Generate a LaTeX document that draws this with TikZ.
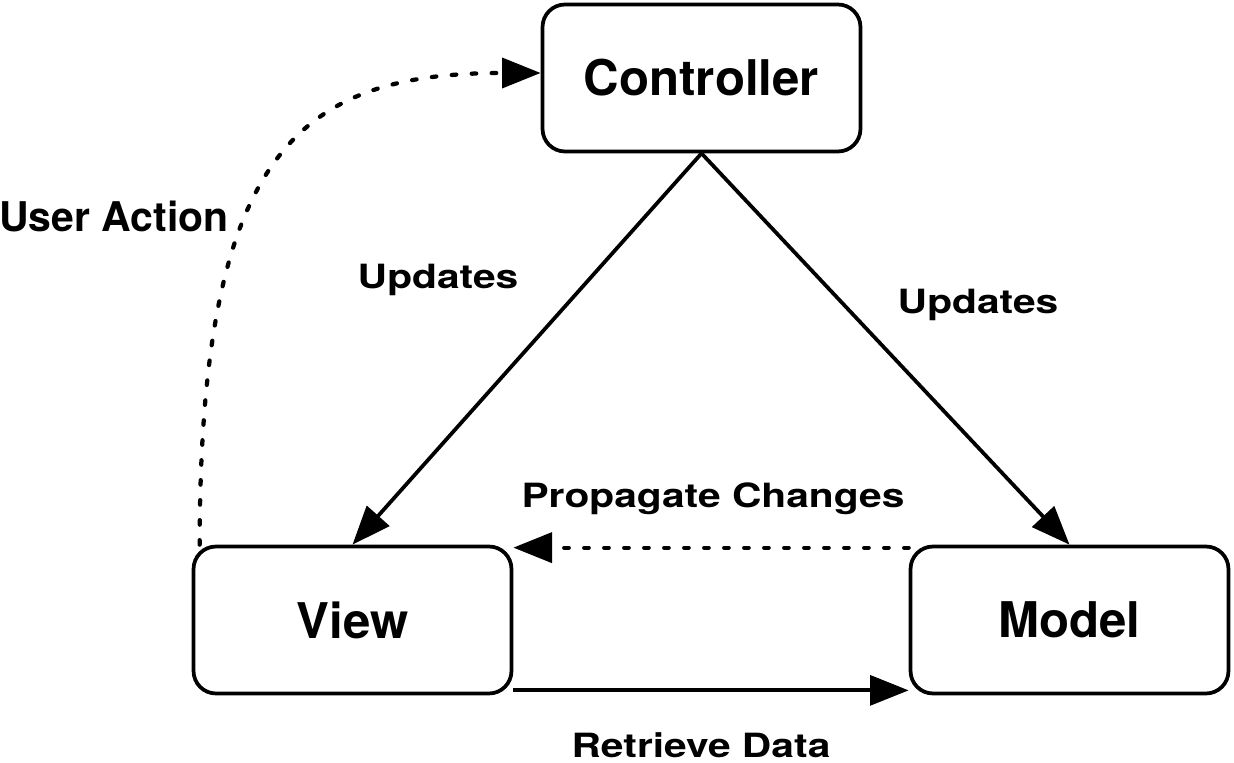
\documentclass[tikz,border=0pt]{standalone}
\usepackage{fontspec}
\setmainfont{TeX Gyre Heros}
\usetikzlibrary{arrows.meta,positioning,calc}
\tikzset{
  blk/.style     = {rounded corners=0.45cm, draw, line width=0.075cm, align=center,
                    minimum width=6.36cm, minimum height=2.94cm, inner sep=0pt,
                    font=\fontsize{28pt}{32pt}\selectfont\bfseries},
  lblbase/.style = {anchor=base, inner sep=0pt, transform shape},
  lbl/.style     = {lblbase, xscale=1.22, font=\fontsize{19pt}{22pt}\selectfont\bfseries},
  ulbl/.style    = {lblbase, font=\fontsize{23.3pt}{26pt}\selectfont\bfseries},
  link/.style    = {line width=0.075cm, -{Triangle[length=22pt,width=17pt]}},
  weakarr/.style = {link, line width=0.085cm, line cap=round, dash pattern=on 0.09cm off 0.31cm},
}
\begin{document}
\begin{tikzpicture}[x=0.02cm, y=-0.02cm]
  \useasboundingbox (0,0) rectangle (1234,763);
  \node[blk] (ctrl)  at (701.5,78)  {Controller};
  \node[blk] (view)  at (352.5,620) {View};
  \node[blk] (model) at (1069.5,620) {Model};
  % controller updates both sides
  \draw[link] (ctrl.south) -- (view.north);
  \draw[link] (ctrl.south) -- (model.north);
  \node[lbl] (updv) at (438,289) {Updates};
  \node[lbl] (updm) at (978,314) {Updates};
  % model <-> view
  \draw[weakarr] ($(model.north west)+(0,3)$) -- ($(view.north east)+(0,3)$);
  \node[lbl] (prop) at (713,507) {Propagate Changes};
  \draw[link] ($(view.south east)+(0,-5)$) -- ($(model.south west)+(0,-5)$);
  \node[lbl] (retr) at (701,757) {Retrieve Data};
  % user input goes to the controller
  \draw[weakarr] ($(view.north west)+(8,0)$) .. controls (200,150) and (300,73) .. ($(ctrl.west)+(0,-5)$);
  \node[ulbl] (user) at (114,232) {User Action};
\end{tikzpicture}
\end{document}
